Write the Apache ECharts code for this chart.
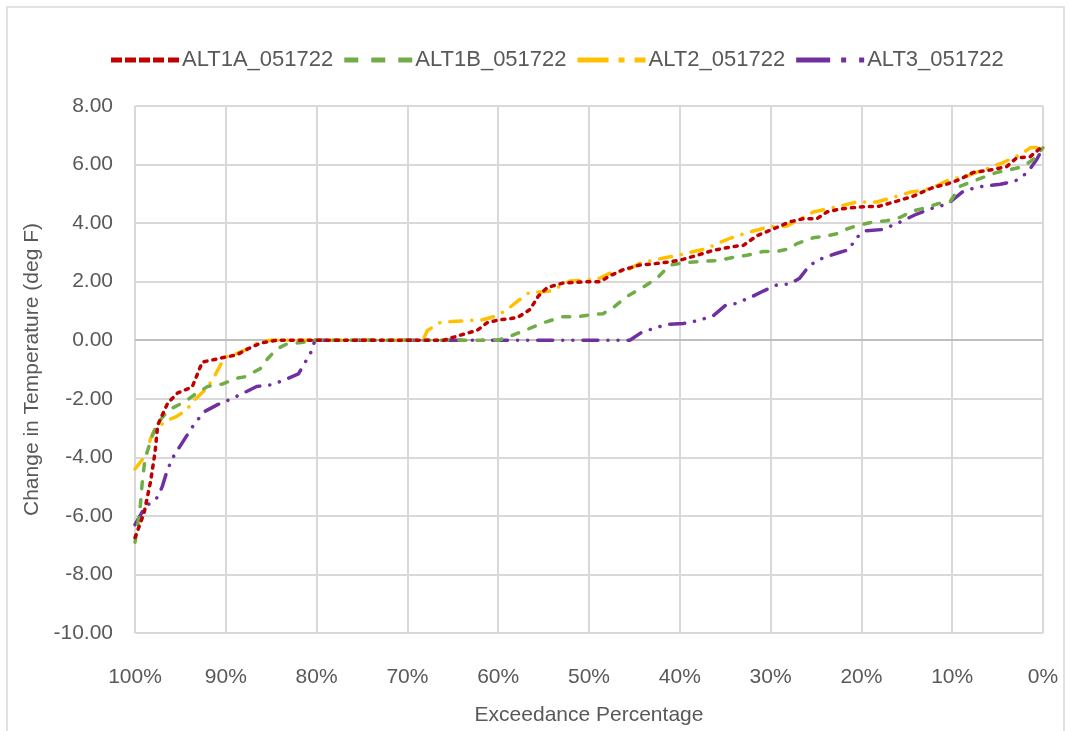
<!DOCTYPE html>
<html>
<head>
<meta charset="utf-8">
<script src="https://cdn.jsdelivr.net/npm/echarts@6/dist/echarts.min.js"></script>
<style>
  html, body { margin: 0; padding: 0; background: #fff; }
  #main { width: 1071px; height: 731px; }
</style>
</head>
<body>
<div id="main"></div>
<script>
  // [exceedance %, change in temperature (deg F)]
  var alt1a = [[100,-6.74],[99,-5.9],[98.3,-4.85],[97.8,-3.85],[97.5,-2.9],[96.4,-2.15],[95.3,-1.8],[93.7,-1.6],[92.6,-0.75],[90.4,-0.6],[88.8,-0.5],[87.6,-0.3],[86.2,-0.1],[84.4,0],[66,0],[64.2,0.17],[62.3,0.34],[61.2,0.6],[59.8,0.7],[57.9,0.77],[56.5,1.05],[55.6,1.5],[54.6,1.8],[52.9,1.95],[50.2,2.0],[48.8,2.0],[47.7,2.2],[46.3,2.4],[44.4,2.57],[42.2,2.63],[40,2.73],[38.1,2.9],[36.3,3.07],[34.1,3.2],[33,3.24],[31.5,3.57],[29.7,3.8],[27.9,4.04],[26.4,4.15],[24.9,4.15],[23.8,4.38],[22.4,4.48],[20.2,4.55],[18,4.58],[16.1,4.75],[14.3,4.92],[12.1,5.22],[10.6,5.33],[9.1,5.5],[7.7,5.73],[5.5,5.83],[4,5.93],[2.9,6.23],[1.4,6.27],[0,6.64]];
  var alt1b = [[100,-6.9],[99.7,-6.3],[99.4,-5.6],[99.2,-4.85],[98.9,-4.05],[98.1,-3.27],[97.5,-2.83],[96.7,-2.53],[95.8,-2.3],[94.5,-2.1],[93.4,-1.85],[92,-1.58],[90.4,-1.5],[88.8,-1.3],[87.9,-1.25],[86.2,-0.97],[85.5,-0.67],[84.4,-0.3],[83.3,-0.13],[81.5,-0.07],[80.5,0],[60,0],[58.4,0.17],[56.8,0.37],[55,0.6],[52.9,0.8],[51.3,0.8],[49.6,0.88],[48.5,0.9],[47.4,1.1],[45.8,1.5],[44.1,1.8],[42.5,2.12],[41.1,2.57],[40,2.62],[38.9,2.66],[37,2.7],[35.6,2.73],[33.7,2.86],[32.6,2.9],[30.8,3.03],[29.3,3.03],[27.9,3.13],[27.1,3.3],[25.3,3.5],[24.2,3.54],[22.7,3.64],[21.6,3.8],[20.2,3.94],[18.7,4.04],[17.2,4.08],[15.7,4.2],[14.3,4.42],[13.2,4.5],[11.7,4.65],[10.2,4.75],[9.1,5.26],[8,5.4],[6.6,5.56],[5.1,5.73],[3.6,5.83],[2.2,5.93],[1.1,6.17],[0,6.57]];
  var alt2 = [[100,-4.4],[98.7,-3.88],[98.3,-3.37],[97.8,-3.03],[96.5,-2.75],[95.4,-2.6],[94.3,-2.37],[93.4,-2.02],[92.1,-1.65],[91.2,-1.2],[90.1,-0.57],[89.5,-0.54],[87.9,-0.34],[86.5,-0.1],[85.1,0],[68.3,0],[67.8,0.33],[66.4,0.6],[65.1,0.64],[63.4,0.67],[61.7,0.7],[60.1,0.84],[59,1.05],[57.8,1.35],[56.5,1.65],[55.4,1.65],[54,1.69],[53.2,1.85],[52.1,2.02],[50.2,2.06],[48.8,2.12],[47.7,2.29],[45.8,2.39],[44.4,2.63],[43,2.73],[41.9,2.8],[40.2,2.9],[38.5,3.03],[37,3.13],[35.9,3.3],[34.3,3.5],[32.6,3.67],[30.1,3.88],[28.2,3.9],[26.4,4.2],[25.3,4.38],[23.8,4.48],[22.4,4.58],[20.5,4.72],[18.3,4.72],[16.3,4.9],[14.6,5.06],[13.2,5.12],[12.1,5.22],[10.2,5.5],[8.4,5.6],[7.3,5.73],[5.8,5.9],[4.4,6.07],[2.5,6.34],[1.4,6.57],[0,6.6]];
  var alt3 = [[100,-6.3],[98.9,-5.7],[97.5,-5.36],[97,-5.0],[96.5,-4.5],[95.9,-4.04],[95,-3.6],[93.4,-2.83],[92.3,-2.43],[90.9,-2.2],[89.3,-1.99],[87.7,-1.75],[86.6,-1.58],[84.9,-1.52],[83.5,-1.35],[82,-1.15],[81.1,-0.67],[80.5,-0.34],[80.2,0],[45.5,0],[44.2,0.27],[42.5,0.44],[41.4,0.54],[39.6,0.57],[38,0.67],[36.3,0.84],[35,1.18],[33.9,1.25],[32.3,1.45],[30.8,1.68],[29.3,1.89],[27.9,1.92],[26.8,2.12],[25.7,2.56],[24.3,2.8],[22.7,2.97],[21.3,3.1],[20.7,3.47],[19.5,3.74],[17.7,3.78],[16.1,3.98],[13.9,4.31],[12.1,4.52],[10.5,4.65],[8.9,5.06],[8,5.16],[6.6,5.26],[4.7,5.33],[3.1,5.43],[1.7,5.73],[0.7,6.17],[0,6.57]];

  var seriesNames = ['ALT1A_051722', 'ALT1B_051722', 'ALT2_051722', 'ALT3_051722'];
  var seriesData = [alt1a, alt1b, alt2, alt3];
  var colors = ['#C00000', '#70AD47', '#FFC000', '#7030A0'];
  var dashes = [[3, 6], [7, 11], [12, 10, 0.1, 10], [15, 10, 0.1, 10, 0.1, 10]];

  // legend icons drawn as dash patterns (68 x 5 box)
  function dashPath(segs) {
    return 'path://' + segs.map(function (s) {
      return 'M' + s[0] + ',0L' + s[1] + ',0L' + s[1] + ',5L' + s[0] + ',5Z';
    }).join('');
  }
  var legendIcons = [
    dashPath([[0, 11], [14, 25], [28, 39], [42, 53], [57, 68]]),
    dashPath([[0, 14], [27, 41], [54, 68]]),
    dashPath([[0, 31], [41, 47], [57, 68]]),
    dashPath([[0, 34], [45, 50], [63, 68]])
  ];

  var font = 'Liberation Sans';
  var textColor = '#595959';

  var chart = echarts.init(document.getElementById('main'));

  var series = seriesData.map(function (d, i) {
    return {
      name: seriesNames[i],
      type: 'line',
      data: d,
      symbol: 'none',
      showSymbol: false,
      color: colors[i],
      lineStyle: { width: 3.5, type: dashes[i], cap: 'round', color: colors[i] },
      z: 10 - i
    };
  });
  // darker line at zero, like the excel category axis
  series[0].markLine = {
    silent: true,
    symbol: 'none',
    label: { show: false },
    lineStyle: { color: '#bfbfbf', width: 2, type: 'solid' },
    data: [{ yAxis: 0 }],
    z: 1
  };

  var option = {
    animation: false,
    backgroundColor: '#fff',
    graphic: [{
      type: 'rect',
      shape: { x: 7, y: 7, width: 1057, height: 740 },
      style: { fill: null, stroke: '#d9d9d9', lineWidth: 1.5 },
      silent: true
    }],
    legend: {
      top: 44,
      left: 106,
      itemWidth: 68,
      itemHeight: 5,
      itemGap: 11,
      textStyle: { fontFamily: font, fontSize: 22, color: textColor, padding: [0, 0, 0, -2] },
      data: seriesNames.map(function (n, i) { return { name: n, icon: legendIcons[i] }; })
    },
    grid: { left: 135, right: 28, top: 106, bottom: 91 },
    xAxis: {
      type: 'value',
      inverse: true,
      min: 0,
      max: 100,
      interval: 10,
      name: 'Exceedance Percentage',
      nameLocation: 'middle',
      nameGap: 72,
      nameTextStyle: { fontFamily: font, fontSize: 21, color: textColor },
      axisLine: { show: false },
      axisTick: { show: false },
      axisLabel: { fontFamily: font, fontSize: 21, color: textColor, margin: 34, formatter: '{value}%' },
      splitLine: { show: true, lineStyle: { color: '#d9d9d9', width: 2 } }
    },
    yAxis: {
      type: 'value',
      min: -10,
      max: 8,
      interval: 2,
      name: 'Change in Temperature (deg F)',
      nameLocation: 'middle',
      nameGap: 82,
      nameTextStyle: { fontFamily: font, fontSize: 21, color: textColor },
      axisLine: { show: false },
      axisTick: { show: false },
      axisLabel: {
        fontFamily: font, fontSize: 21, color: textColor, margin: 22,
        formatter: function (v) { return v.toFixed(2); }
      },
      splitLine: { show: true, lineStyle: { color: '#d9d9d9', width: 2 } }
    },
    series: series
  };

  chart.setOption(option);
</script>
</body>
</html>
